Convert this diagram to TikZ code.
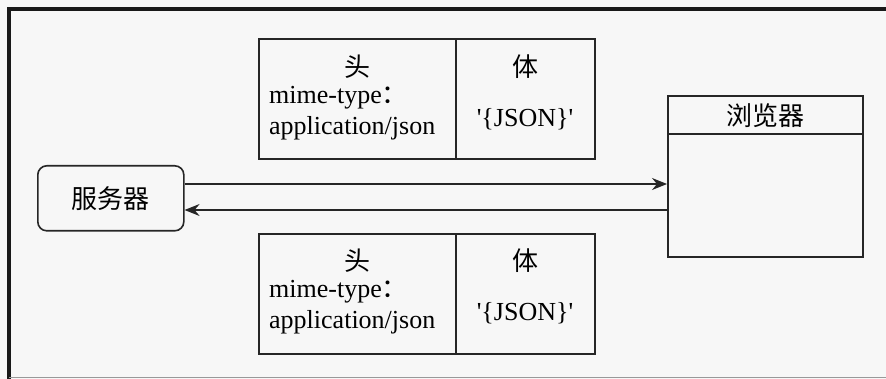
\documentclass[tikz,border=0pt]{standalone}
\usepackage{fontspec}
\setmainfont{Liberation Serif}[Ligatures=TeXOff]
\newfontfamily\cjk{Noto Sans CJK SC}
\usetikzlibrary{arrows.meta}
\begin{document}
\begin{tikzpicture}[x=1pt,y=-1pt,
  box/.style={draw=black!85,line width=1.6pt,inner sep=0pt,anchor=north west},
  rbox/.style={box,rounded corners=9pt},
  txt/.style={inner sep=0pt,font=\fontsize{26}{26}\selectfont},
  cjktxt/.style={inner sep=0pt,font=\fontsize{26}{26}\selectfont\cjk},
  arr/.style={draw=black!85,line width=1.3pt,-{Stealth[length=15pt,width=12pt,inset=5pt]}}
]
\useasboundingbox (0,0) rectangle (886,379);
\fill[black!3] (0,0) rectangle (886,379);
% frame
\draw[black!90,line width=3.5pt] (9,379) -- (9,9) -- (886,9);
\draw[black!40,line width=1pt] (9,377) -- (886,377);

% top message box
\node[box,minimum width=197pt,minimum height=120pt] (headT) at (258,38) {};
\node[box,minimum width=139pt,minimum height=120pt] (bodyT) at (455,38) {};
\node[cjktxt] (tou1) at (357,67) {头};
\node[txt,anchor=west] (mime1) at (269,98) {mime-type{\cjk ：}};
\node[txt,anchor=west] (app1) at (269,128) {application/json};
\node[cjktxt] (ti1) at (525,67) {体};
\node[txt] (json1) at (525,119) {'\{JSON\}'};

% bottom message box
\node[box,minimum width=197pt,minimum height=120pt] (headB) at (258,233) {};
\node[box,minimum width=139pt,minimum height=120pt] (bodyB) at (455,233) {};
\node[cjktxt] (tou2) at (357,261) {头};
\node[txt,anchor=west] (mime2) at (269,292) {mime-type{\cjk ：}};
\node[txt,anchor=west] (app2) at (269,322) {application/json};
\node[cjktxt] (ti2) at (525,261) {体};
\node[txt] (json2) at (525,313) {'\{JSON\}'};

% server
\node[rbox,minimum width=146pt,minimum height=65pt] (server) at (37,165) {};
\node[cjktxt] (serverlbl) at (server.center) {服务器};

% browser
\node[box,minimum width=195pt,minimum height=161pt] (browser) at (667,95) {};
\draw[draw=black!85,line width=1.6pt] (browser.west |- 0,134) -- (browser.east |- 0,134);
\node[cjktxt] (browserlbl) at (765,116) {浏览器};

% arrows
\draw[arr] (server.east |- 0,184) -- (browser.west |- 0,184);
\draw[arr] (browser.west |- 0,210) -- (server.east |- 0,210);
\end{tikzpicture}
\end{document}
